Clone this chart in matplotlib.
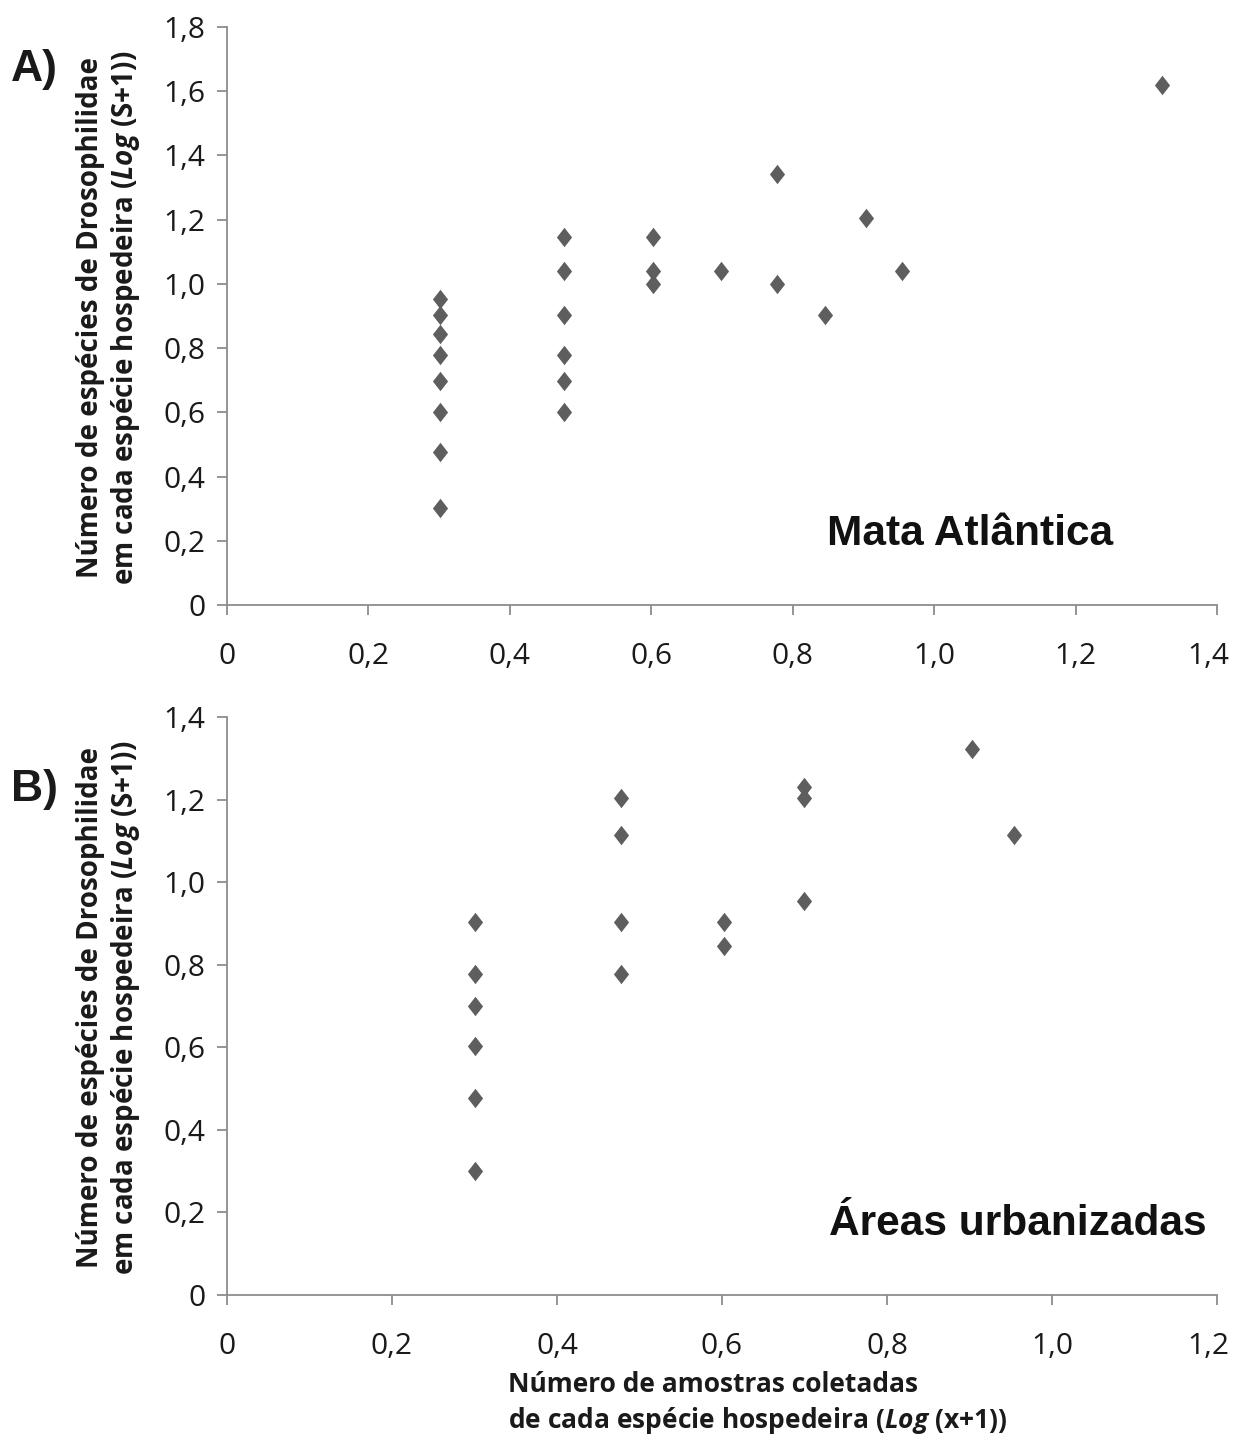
import matplotlib
matplotlib.use("Agg")
import matplotlib.pyplot as plt
from matplotlib.transforms import ScaledTranslation
import numpy as np

plt.rcParams['font.family'] = ['Open Sans', 'DejaVu Sans']
plt.rcParams['mathtext.fontset'] = 'custom'
plt.rcParams['mathtext.rm'] = 'Open Sans:bold'
plt.rcParams['mathtext.it'] = 'Open Sans:italic:bold'

# Panel A: Mata Atlântica
xa = [0.301, 0.301, 0.301, 0.301, 0.301, 0.301, 0.301, 0.301,
      0.477, 0.477, 0.477, 0.477, 0.477, 0.477,
      0.602, 0.602, 0.602,
      0.699, 0.778, 0.778, 0.845, 0.903, 0.954, 1.322]
ya = [0.954, 0.903, 0.845, 0.778, 0.699, 0.602, 0.477, 0.301,
      1.146, 1.041, 0.903, 0.778, 0.699, 0.602,
      1.146, 1.041, 1.000,
      1.041, 1.342, 1.000, 0.903, 1.204, 1.041, 1.620]

# Panel B: Áreas urbanizadas
xb = [0.301, 0.301, 0.301, 0.301, 0.301, 0.301,
      0.477, 0.477, 0.477, 0.477,
      0.602, 0.602,
      0.699, 0.699, 0.699,
      0.903, 0.954]
yb = [0.903, 0.778, 0.699, 0.602, 0.477, 0.301,
      1.204, 1.114, 0.903, 0.778,
      0.903, 0.845,
      1.230, 1.204, 0.954,
      1.322, 1.114]

xticks_a = [0, 0.2, 0.4, 0.6, 0.8, 1.0, 1.2, 1.4]
xlabels_a = ['0', '0,2', '0,4', '0,6', '0,8', '1,0', '1,2', '1,4']
yticks_a = [0, 0.2, 0.4, 0.6, 0.8, 1.0, 1.2, 1.4, 1.6, 1.8]
ylabels_a = ['0', '0,2', '0,4', '0,6', '0,8', '1,0', '1,2', '1,4', '1,6', '1,8']
xticks_b = [0, 0.2, 0.4, 0.6, 0.8, 1.0, 1.2]
xlabels_b = ['0', '0,2', '0,4', '0,6', '0,8', '1,0', '1,2']
yticks_b = [0, 0.2, 0.4, 0.6, 0.8, 1.0, 1.2, 1.4]
ylabels_b = ['0', '0,2', '0,4', '0,6', '0,8', '1,0', '1,2', '1,4']

W, H = 1233, 1439
fig = plt.figure(figsize=(W / 100, H / 100), dpi=100)

def px_axes(l, t, r, b):
    return fig.add_axes([l / W, 1 - b / H, (r - l) / W, (b - t) / H])

axA = px_axes(227, 27, 1217, 605)
axB = px_axes(227, 717, 1217, 1295)

diamond = [(0, 1), (0.78, 0), (0, -1), (-0.78, 0), (0, 1)]
mcol = '#5e5e5e'
spcol = '#8c8c8c'
tfs = 21.5

def style(ax, xt, xl, yt, yl):
    for s in ['top', 'right']:
        ax.spines[s].set_visible(False)
    for s in ['left', 'bottom']:
        ax.spines[s].set_color(spcol)
        ax.spines[s].set_linewidth(1.3)
    ax.set_xlim(xt[0], xt[-1])
    ax.set_ylim(yt[0], yt[-1])
    ax.set_xticks(xt)
    ax.set_xticklabels(xl, fontsize=tfs, color='#1a1a1a')
    ax.set_yticks(yt)
    ax.set_yticklabels(yl, fontsize=tfs, color='#1a1a1a')
    ax.tick_params(axis='both', direction='out', length=7.5, width=1.3,
                   color=spcol)
    ax.tick_params(axis='x', pad=19)
    ax.tick_params(axis='y', pad=8)
    last = ax.get_xticklabels()[-1]
    last.set_transform(last.get_transform() +
                       ScaledTranslation(-9 / 100, 0, fig.dpi_scale_trans))

style(axA, xticks_a, xlabels_a, yticks_a, ylabels_a)
style(axB, xticks_b, xlabels_b, yticks_b, ylabels_b)

axA.plot(xa, ya, linestyle='none', marker=diamond, markersize=14,
         color=mcol, markeredgewidth=0, clip_on=False)
axB.plot(xb, yb, linestyle='none', marker=diamond, markersize=14,
         color=mcol, markeredgewidth=0, clip_on=False)

ylab = 'Número de espécies de Drosophilidae\nem cada espécie hospedeira ($\\mathit{Log}$ (S+1))'
for ax, yc in [(axA, 318), (axB, 1008)]:
    fig.text(109 / W, 1 - yc / H, ylab, rotation=90, ha='center', va='center',
             fontsize=20, fontweight='bold', color='#1a1a1a', linespacing=1.2)

fig.text(508 / W, 1 - 1385 / H, 'Número de amostras coletadas', ha='left', va='center',
         fontsize=19, fontweight='bold', color='#1a1a1a')
fig.text(508 / W, 1 - 1420 / H, 'de cada espécie hospedeira ($\\mathit{Log}$ (x+1))',
         ha='left', va='center', fontsize=19, fontweight='bold', color='#1a1a1a')

fig.text(11 / W, 1 - 70 / H, 'A)', ha='left', va='center', fontsize=32,
         fontweight='bold', family='Liberation Sans', color='#1a1a1a')
fig.text(11 / W, 1 - 790 / H, 'B)', ha='left', va='center', fontsize=32,
         fontweight='bold', family='Liberation Sans', color='#1a1a1a')

fig.text(1113 / W, 1 - 545 / H, 'Mata Atlântica', ha='right', va='baseline',
         fontsize=30.5, fontweight='bold', family='Liberation Sans', color='#111111')
fig.text(1207 / W, 1 - 1235 / H, 'Áreas urbanizadas', ha='right', va='baseline',
         fontsize=30.5, fontweight='bold', family='Liberation Sans', color='#111111')

fig.savefig('out.png', dpi=100)
